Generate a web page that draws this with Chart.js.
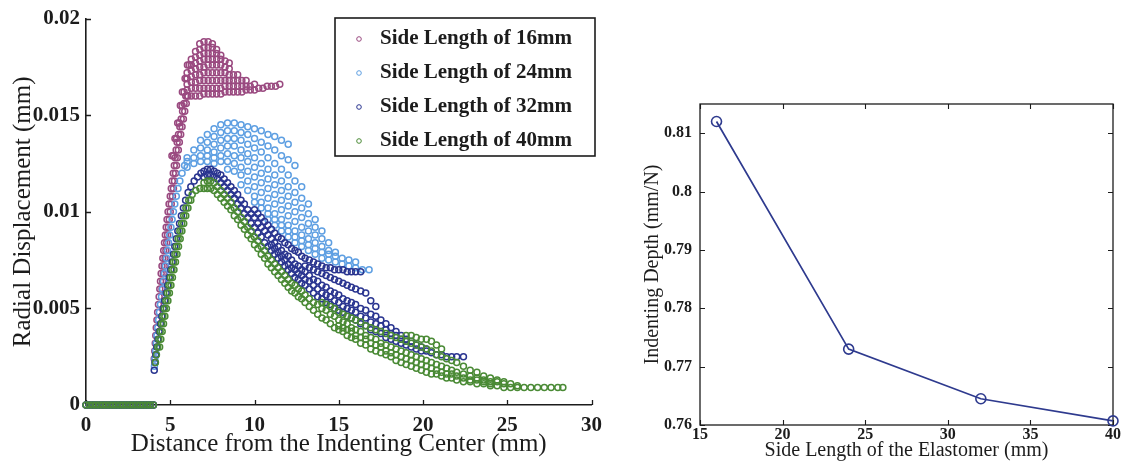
<!DOCTYPE html>
<html><head><meta charset="utf-8">
<script src="https://cdn.jsdelivr.net/npm/chart.js@4/dist/chart.umd.min.js"></script>
<style>
html,body{margin:0;padding:0;background:#fff;}
#wrap{position:relative;width:1122px;height:465px;overflow:hidden;background:#fff;}
#c1{position:absolute;left:0;top:0;}
#c2{position:absolute;left:620px;top:0;}
</style></head><body>
<div id="wrap"><canvas id="c1" width="610" height="465"></canvas><canvas id="c2" width="502" height="465"></canvas></div>
<script>
// ---------- tick values ----------
const leftXTicks = [0,5,10,15,20,25,30];
const leftYTicks = [0,0.005,0.01,0.015,0.02];
const rightXTicks = [15,20,25,30,35,40];
const rightYTicks = [0.76,0.77,0.78,0.79,0.8,0.81];

// ---------- left plot: series labels ----------
const seriesLabels = ['Side Length of 16mm','Side Length of 24mm','Side Length of 32mm','Side Length of 40mm'];

// contact zone (zero displacement)
const zeroX = [0,0.2,0.4,0.6,0.8,1,1.2,1.4,1.6,1.8,2,2.2,2.4,2.6,2.8,3,3.2,3.4,3.6,3.8,4];
const zeroY = [0,0,0,0,0,0,0,0,0,0,0,0,0,0,0,0,0,0,0,0,0];

// ---- 16 mm ----
const rise16X = [4.05,4.08,4.11,4.14,4.17,4.21,4.25,4.30,4.34,4.38,4.42,4.46,4.51,4.56,4.61,4.66,4.71,4.76,4.81,4.87,4.93,5.00,5.06,5.12,5.18,5.24,5.29,5.35,5.41,5.49,5.57,5.65,5.73,5.82,5.92];
const rise16Y = [.0024,.0028,.0032,.0036,.0040,.0044,.0048,.0052,.0056,.0060,.0064,.0068,.0072,.0076,.0080,.0084,.0088,.0092,.0096,.0100,.0104,.0108,.0112,.0116,.0120,.0124,.0128,.0132,.0136,.0140,.0144,.0148,.0152,.0156,.0160];
const rise16bX = [4.51,4.55,4.59,4.64,4.69,4.74,4.79,4.84,4.89,4.94,5.00,5.06,5.13,5.19,5.25,5.31,5.37,5.42,5.48,5.54,5.62,5.70,5.78,5.86,5.95,6.05];
const rise16bY = [.0060,.0064,.0068,.0072,.0076,.0080,.0084,.0088,.0092,.0096,.0100,.0104,.0108,.0112,.0116,.0120,.0124,.0128,.0132,.0136,.0140,.0144,.0148,.0152,.0156,.0160];
const fing16X = [5.10,5.20,5.28,5.38,5.44,5.54,5.60,5.70,5.72,5.82,5.88,5.98,6.02,6.12];
const fing16Y = [.0129,.0129,.0138,.0138,.0146,.0146,.0155,.0155,.0162,.0162,.0169,.0169,.0176,.0176];
const grid16 = [6.0,6.25,6.5,6.75,7.0,7.25,7.5,7.75,8.0,8.25,8.5,8.75,9.0,9.25,9.5,9.75,10.0,10.25,10.5,10.75,11.0,11.25,11.5];
const rows16Start = [6.0,6.0,6.0,6.0,6.0,6.25,6.25,6.5,6.75];
const rows16 = [
  [.0160,.0160,.0160,.0160,.0161,.0161,.0161,.0161,.0161,.0162,.0162,.0162,.0162,.0162,.0163,.0163,.0163,.0164,.0164,.0165,.0165,.0165,.0166],
  [.0163,.0164,.0164,.0164,.0164,.0164,.0164,.0164,.0164,.0165,.0165,.0165,.0165,.0165,.0165,.0165,.0166],
  [.0166,.0167,.0167,.0168,.0168,.0168,.0168,.0168,.0168,.0168,.0168,.0168,.0168,.0168,.0168],
  [.0169,.0170,.0171,.0171,.0172,.0172,.0172,.0172,.0172,.0172,.0171,.0171,.0171],
  [.0172,.0173,.0174,.0175,.0175,.0176,.0176,.0176,.0176,.0175,.0174],
  [.0176,.0177,.0178,.0179,.0179,.0179,.0179,.0179,.0178,.0177],
  [.0179,.0180,.0181,.0182,.0182,.0182,.0182,.0181],
  [.0183,.0184,.0185,.0185,.0185,.0184],
  [.0187,.0188,.0188,.0187]
];

// ---- 24 mm ----
const rise24X = [4.06,4.09,4.13,4.17,4.21,4.26,4.31,4.36,4.42,4.48,4.54,4.60,4.66,4.72,4.78,4.84,4.90,4.97,5.04,5.11,5.19,5.27,5.36,5.46,5.57,5.70,5.85,6.00];
const rise24Y = [.0020,.0024,.0028,.0032,.0036,.0040,.0044,.0048,.0052,.0056,.0060,.0064,.0068,.0072,.0076,.0080,.0084,.0088,.0092,.0096,.0100,.0104,.0108,.0112,.0116,.0120,.0124,.0128];
const grid24 = [6.0,6.4,6.8,7.2,7.6,8.0,8.4,8.8,9.2,9.6,10.0,10.4,10.8,11.2,11.6,12.0,12.4,12.8,13.2,13.6,14.0,14.4,14.8,15.2,15.6,16.0,16.4,16.8];
const rows24Start = [6.0,6.0,6.4,6.8,7.2,7.6,8.4,9.2,10.0,10.8];
const rows24 = [
  [.0126,.0132,.0137,.0140,.0143,.0145,.0146,.0146,.0145,.0144,.0143,.0142,.0140,.0139,.0137,.0135],
  [.0123,.0128,.0133,.0136,.0139,.0141,.0142,.0142,.0141,.0140,.0138,.0136,.0134,.0132,.0129,.0127,.0124],
  [.0125,.0129,.0132,.0135,.0137,.0138,.0138,.0137,.0135,.0133,.0131,.0128,.0125,.0122,.0119,.0116,.0113],
  [.0126,.0129,.0131,.0133,.0134,.0134,.0132,.0130,.0128,.0125,.0122,.0119,.0116,.0113,.0110,.0107,.0104],
  [.0126,.0128,.0129,.0130,.0129,.0128,.0126,.0123,.0120,.0117,.0114,.0111,.0108,.0105,.0102,.0099,.0096],
  [.0125,.0126,.0126,.0125,.0123,.0121,.0118,.0115,.0112,.0109,.0106,.0103,.0100,.0097,.0094,.0092,.0090],
  [.0122,.0121,.0119,.0116,.0113,.0110,.0107,.0104,.0101,.0098,.0095,.0092,.0090,.0088,.0086,.0084],
  [.0114,.0111,.0108,.0105,.0102,.0099,.0096,.0093,.0090,.0088,.0086,.0084,.0082,.0080,.0079],
  [.0105,.0102,.0099,.0096,.0093,.0090,.0087,.0085,.0083,.0081,.0079,.0078,.0077,.0076,.0075,.0074],
  [.0096,.0093,.0090,.0087,.0084,.0082,.0080,.0078,.0076,.0075,.0074,.0073,.0072,.0071,.0070,.0070]
];

// ---- shared x grid for the 32 mm and 40 mm decay rows ----
const gridD = [7.0,7.2,7.4,7.6,7.8,8.0,8.2,8.4,8.6,8.8,9.0,9.2,9.4,9.6,9.8,10.0,10.2,10.4,10.6,10.8,11.0,11.2,11.4,11.6,11.8,12.0,12.2,12.4,12.6,12.8,13.0,13.25,13.5,13.75,14.0,14.25,14.5,14.75,15.0,15.25,15.5,15.75,16.0,16.3,16.6,16.9,17.2,17.5,17.8,18.1,18.4,18.7,19.0,19.3,19.6,19.9,20.2,20.5,20.8,21.1,21.4,21.7,22.0,22.4,22.8,23.2,23.6,24.0,24.4,24.8,25.2,25.6,26.0,26.4,26.8,27.2,27.6,28.0,28.3];

// ---- 32 mm ----
const rise32X = [4.05,4.09,4.14,4.20,4.27,4.34,4.42,4.50,4.58,4.67,4.76,4.85,4.94,5.03,5.11,5.19,5.27,5.36,5.45,5.55,5.66,5.78,5.91,6.06,6.22,6.42,6.62,6.82];
const rise32Y = [.0018,.0022,.0026,.0030,.0034,.0038,.0042,.0046,.0050,.0054,.0058,.0062,.0066,.0070,.0074,.0078,.0082,.0086,.0090,.0094,.0098,.0102,.0106,.0110,.0113,.0116,.0118,.0120];
const rows32Start = [7.0,7.0,10.0,13.0,11.0];
const rows32 = [
  [.0118,.0119,.0119,.0118,.0117,.0115,.0113,.0111,.0109,.0107,.0104,.0102,.0099,.0097,.0094,.0092,.0089,.0087,.0084,.0082,.0080,.0078,.0076,.0074,.0072,.0070,.0068,.0066,.0065,.0063,.0062,.0060,.0058,.0056,.0055,.0053,.0052,.0050,.0049,.0048,.0046,.0045,.0044,.0042,.0041,.0039,.0038,.0037,.0035,.0034,.0033,.0032,.0031,.0030,.0029,.0028,.0028,.0027,.0026,.0026,.0025,.0025,.0025,.0025],
  [.0121,.0122,.0122,.0121,.0120,.0119,.0117,.0115,.0113,.0111,.0109,.0106,.0104,.0101,.0099,.0097,.0094,.0092,.0090,.0088,.0086,.0084,.0082,.0080,.0078,.0077,.0075,.0073,.0072,.0070,.0069,.0067,.0065,.0064,.0062,.0061,.0059,.0058,.0057,.0055,.0054,.0053,.0052,.0050,.0049,.0047,.0046,.0044,.0042,.0040,.0038,.0036,.0034,.0033,.0031,.0030,.0029],
  [.0101,.0099,.0097,.0095,.0093,.0091,.0089,.0087,.0086,.0084,.0083,.0081,.0080,.0079,.0077,.0076,.0075,.0074,.0073,.0072,.0071,.0071,.0070,.0070,.0070,.0069,.0069,.0069,.0069],
  [.0072,.0071,.0070,.0069,.0068,.0067,.0066,.0065,.0064,.0063,.0062,.0061,.0060,.0059,.0058,.0054,.0051],
  [.0083,.0081,.0079,.0077,.0075,.0073,.0071,.0070,.0068,.0067,.0065,.0064,.0062,.0060,.0058,.0057,.0056,.0054,.0053,.0051,.0050,.0049,.0048,.0046,.0045,.0043,.0042,.0041,.0039,.0037,.0036,.0034,.0033]
];

// ---- 40 mm ----
const rise40X = [4.12,4.18,4.25,4.32,4.40,4.48,4.56,4.65,4.74,4.83,4.92,5.01,5.10,5.19,5.28,5.37,5.47,5.57,5.68,5.80,5.93,6.10,6.30,6.52,6.76];
const rise40Y = [.0022,.0026,.0030,.0034,.0038,.0042,.0046,.0050,.0054,.0058,.0062,.0066,.0070,.0074,.0078,.0082,.0086,.0090,.0094,.0098,.0102,.0106,.0109,.0111,.0112];
const rise40bX = [4.37,4.44,4.52,4.60,4.68,4.77,4.86,4.95,5.04,5.13,5.22,5.31,5.40,5.49,5.59,5.69,5.80,5.92,6.05,6.22];
const rise40bY = [.0030,.0034,.0038,.0042,.0046,.0050,.0054,.0058,.0062,.0066,.0070,.0074,.0078,.0082,.0086,.0090,.0094,.0098,.0102,.0106];
const rows40Start = [7.0,7.0,14.0,19.0,15.0];
const rows40 = [
  [.0112,.0112,.0112,.0111,.0109,.0107,.0105,.0103,.0101,.0098,.0096,.0093,.0091,.0088,.0086,.0083,.0081,.0078,.0076,.0073,.0071,.0069,.0067,.0065,.0063,.0061,.0059,.0058,.0056,.0055,.0053,.0051,.0049,.0047,.0045,.0044,.0042,.0040,.0039,.0038,.0036,.0035,.0034,.0032,.0031,.0029,.0028,.0027,.0026,.0025,.0023,.0022,.0021,.0020,.0019,.0018,.0017,.0016,.0016,.0015,.0014,.0014,.0013,.0012,.0012,.0011,.0011,.0010,.0010,.0009,.0009,.0009,.0009,.0009,.0009,.0009,.0009,.0009,.0009],
  [.0115,.0116,.0116,.0115,.0113,.0111,.0109,.0107,.0105,.0102,.0100,.0097,.0095,.0092,.0090,.0087,.0085,.0082,.0080,.0077,.0075,.0073,.0071,.0069,.0067,.0065,.0063,.0062,.0060,.0059,.0057,.0055,.0053,.0052,.0050,.0049,.0047,.0046,.0044,.0043,.0042,.0040,.0039,.0038,.0036,.0035,.0034,.0032,.0031,.0030,.0029,.0028,.0027,.0026,.0025,.0024,.0023,.0022,.0021,.0020,.0019,.0018,.0017,.0016,.0015,.0014,.0013,.0012,.0012,.0011,.0011,.0010],
  [.0053,.0052,.0051,.0050,.0048,.0047,.0046,.0045,.0044,.0043,.0041,.0040,.0039,.0038,.0037,.0036,.0035,.0034,.0033,.0032,.0031,.0030,.0029,.0028,.0026,.0025,.0024,.0023,.0022,.0020,.0018,.0017,.0015,.0014,.0013,.0012],
  [.0036,.0036,.0035,.0034,.0034,.0033,.0031,.0029],
  [.0041,.0040,.0039,.0038,.0036,.0035,.0034,.0032,.0031,.0030,.0028,.0027,.0026,.0025,.0024,.0023,.0022,.0021,.0020,.0019,.0018,.0017,.0016,.0016,.0015,.0014,.0013,.0013,.0012,.0011]
];

// ---------- right plot ----------
const sideLengths = [16,24,32,40];
const indentDepth = [0.812,0.773,0.7645,0.7607];

// ---------- styles ----------
const FONT = '"Liberation Serif","Times New Roman",Times,serif';
const INK = '#1c1c1c';
const seriesColors = ['#9a4a80','#5e9fe2','#2a3590','#4a8a35'];

// ---------- helpers ----------
function pairs(xs, ys){ return xs.map((x,i)=>({x:x, y:ys[i]})); }
function gridRows(grid, starts, rows){
  const out = [];
  rows.forEach((ys, r)=>{
    const k = grid.indexOf(starts[r]);
    ys.forEach((y,i)=>{ out.push({x:grid[k+i], y:y}); });
  });
  return out;
}
const series = [
  [].concat(pairs(zeroX,zeroY), pairs(rise16X,rise16Y), pairs(rise16bX,rise16bY), pairs(fing16X,fing16Y), gridRows(grid16,rows16Start,rows16)),
  [].concat(pairs(zeroX,zeroY), pairs(rise24X,rise24Y), gridRows(grid24,rows24Start,rows24)),
  [].concat(pairs(zeroX,zeroY), pairs(rise32X,rise32Y), gridRows(gridD,rows32Start,rows32)),
  [].concat(pairs(zeroX,zeroY), pairs(rise40X,rise40Y), pairs(rise40bX,rise40bY), gridRows(gridD,rows40Start,rows40))
];

const inwardTicks = {
  id:'inwardTicks',
  beforeDatasetsDraw(chart, args, o){
    const {ctx, chartArea:a, scales} = chart;
    const x = scales.x, y = scales.y;
    ctx.save();
    ctx.strokeStyle = INK; ctx.lineWidth = o.width || 1;
    ctx.beginPath();
    x.ticks.forEach(t=>{
      const p = Math.round(x.getPixelForValue(t.value))+0.5;
      ctx.moveTo(p, a.bottom); ctx.lineTo(p, a.bottom - o.len);
      if (o.box){ ctx.moveTo(p, a.top); ctx.lineTo(p, a.top + o.len); }
    });
    y.ticks.forEach(t=>{
      const p = Math.round(y.getPixelForValue(t.value))+0.5;
      ctx.moveTo(a.left, p); ctx.lineTo(a.left + o.len, p);
      if (o.box){ ctx.moveTo(a.right, p); ctx.lineTo(a.right - o.len, p); }
    });
    ctx.stroke();
    if (o.box){ ctx.lineWidth = 1.3; ctx.strokeRect(a.left, a.top, a.right-a.left, a.bottom-a.top); }
    ctx.restore();
  }
};

const boxLegend = {
  id:'boxLegend',
  afterDraw(chart, args, o){
    if (!o || !o.show) return;
    const ctx = chart.ctx;
    ctx.save();
    ctx.fillStyle = '#fff'; ctx.fillRect(o.x, o.y, o.w, o.h);
    ctx.strokeStyle = INK; ctx.lineWidth = 1.6; ctx.strokeRect(o.x, o.y, o.w, o.h);
    ctx.font = 'bold 21px ' + FONT; ctx.textBaseline = 'middle'; ctx.textAlign = 'left';
    chart.data.datasets.forEach((ds,i)=>{
      const cy = o.y + o.first + i*o.step;
      ctx.beginPath(); ctx.arc(o.x + o.mark, cy, 2.3, 0, Math.PI*2);
      ctx.strokeStyle = ds.borderColor; ctx.lineWidth = 1; ctx.stroke();
      ctx.fillStyle = INK; ctx.fillText(ds.label, o.x + o.text, cy);
    });
    ctx.restore();
  }
};

Chart.defaults.font.family = FONT;
Chart.defaults.color = INK;

const orders = [4,3,2,1];
new Chart(document.getElementById('c1'), {
  type:'scatter',
  data:{ datasets: series.map((pts,i)=>({
    label: seriesLabels[i], data: pts, showLine:false,
    borderColor: seriesColors[i], backgroundColor:'rgba(0,0,0,0)',
    pointStyle:'circle', pointRadius:3, pointBorderWidth:1.5,
    pointBackgroundColor:'rgba(0,0,0,0)', pointBorderColor: seriesColors[i],
    order: orders[i], clip:false
  }))},
  options:{
    responsive:false, animation:false, events:[],
    layout:{padding:{top:14, right:13, bottom:0, left:0}},
    plugins:{ legend:{display:false}, tooltip:{enabled:false},
      inwardTicks:{len:5, width:1.3, box:false},
      boxLegend:{show:true, x:335, y:18, w:260, h:138, first:21, step:34, mark:24, text:45}
    },
    scales:{
      x:{ type:'linear', position:'bottom', min:0, max:30,
        afterBuildTicks(s){ s.ticks = leftXTicks.map(v=>({value:v})); },
        afterFit(s){ s.height = 60; },
        grid:{display:false, drawTicks:false, tickLength:0}, border:{display:true, color:INK, width:1.6},
        ticks:{ font:{size:21, weight:'bold'}, color:INK, padding:8, maxRotation:0, autoSkip:false, callback:v=>String(v) },
        title:{ display:true, text:'Distance from the Indenting Center (mm)', font:{size:25, weight:'normal'}, color:INK, padding:{top:0,bottom:6} }
      },
      y:{ type:'linear', position:'left', min:0, max:0.02,
        afterBuildTicks(s){ s.ticks = leftYTicks.map(v=>({value:v})); },
        afterFit(s){ s.width = 86; },
        grid:{display:false, drawTicks:false, tickLength:0}, border:{display:true, color:INK, width:1.6},
        ticks:{ font:{size:21, weight:'bold'}, color:INK, padding:6, autoSkip:false, callback:v=>String(v) },
        title:{ display:true, text:'Radial Displacement (mm)', font:{size:25, weight:'normal'}, color:INK, padding:{top:8,bottom:0} }
      }
    }
  },
  plugins:[inwardTicks, boxLegend]
});

new Chart(document.getElementById('c2'), {
  type:'line',
  data:{ datasets:[{
    label:'Indenting Depth', data: sideLengths.map((x,i)=>({x:x, y:indentDepth[i]})),
    borderColor:'#2e3a8e', borderWidth:1.7, tension:0, fill:false,
    pointStyle:'circle', pointRadius:5, pointBorderWidth:1.6,
    pointBackgroundColor:'rgba(0,0,0,0)', pointBorderColor:'#2e3a8e', clip:false
  }]},
  options:{
    responsive:false, animation:false, events:[],
    layout:{padding:{top:104, right:9, bottom:0, left:0}},
    plugins:{ legend:{display:false}, tooltip:{enabled:false},
      inwardTicks:{len:5, width:1.1, box:true}, boxLegend:{show:false} },
    scales:{
      x:{ type:'linear', position:'bottom', min:15, max:40,
        afterBuildTicks(s){ s.ticks = rightXTicks.map(v=>({value:v})); },
        afterFit(s){ s.height = 40; },
        grid:{display:false, drawTicks:false, tickLength:0}, border:{display:false},
        ticks:{ font:{size:16, weight:'bold'}, color:INK, padding:0, maxRotation:0, autoSkip:false, callback:v=>String(v) },
        title:{ display:true, text:'Side Length of the Elastomer (mm)', font:{size:20, weight:'normal'}, color:INK, padding:{top:0,bottom:2} }
      },
      y:{ type:'linear', position:'left', min:0.76, max:0.815,
        afterBuildTicks(s){ s.ticks = rightYTicks.map(v=>({value:v})); },
        afterFit(s){ s.width = 80; },
        grid:{display:false, drawTicks:false, tickLength:0}, border:{display:false},
        ticks:{ font:{size:16, weight:'bold'}, color:INK, padding:8, autoSkip:false, callback:v=>String(v) },
        title:{ display:true, text:'Indenting Depth (mm/N)', font:{size:20, weight:'normal'}, color:INK, padding:{top:21,bottom:0} }
      }
    }
  },
  plugins:[inwardTicks, boxLegend]
});
</script>
</body></html>
